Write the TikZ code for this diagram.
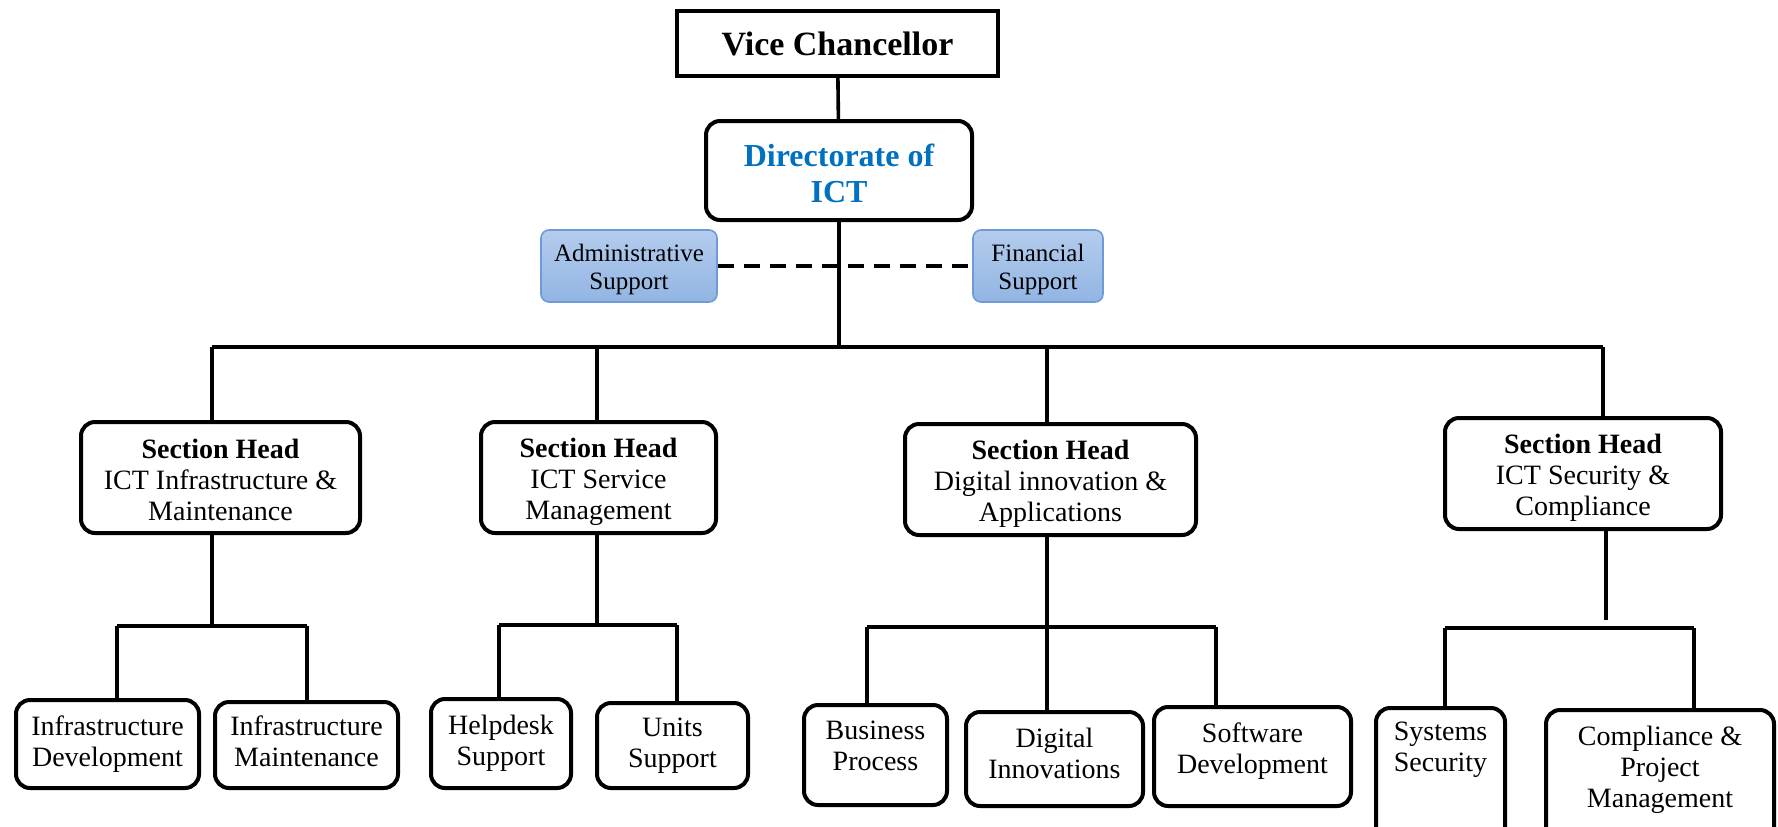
\documentclass[tikz,border=0pt]{standalone}
\usepackage{fontspec}
\setmainfont{Liberation Serif}
\usepackage{xcolor}
\definecolor{ictblue}{RGB}{0,112,192}
\definecolor{supportedge}{RGB}{110,155,215}
\definecolor{supporttop}{RGB}{180,204,237}
\definecolor{supportbottom}{RGB}{146,181,227}
\usepackage{tikz}
\usetikzlibrary{calc}
\newcommand{\topgap}[1]{\rule{0pt}{#1}}
\tikzset{
    common/.style={draw, line width=2pt, align=center, inner sep=0pt},
    px/.style 2 args={minimum width=#1*0.5pt, minimum height=#2*0.5pt},
    raise text/.style={execute at end node={\rule[-#1]{0pt}{0pt}}},
    chiefbox/.style={common, rectangle, font=\bfseries\fontsize{17}{20}\selectfont},
    headbox/.style={common, rounded corners=7pt, font=\fontsize{14}{15.5}\selectfont},
    leafbox/.style={headbox},
    dirbox/.style={headbox, text=ictblue, font=\bfseries\fontsize{16}{18}\selectfont},
    supportbox/.style={draw=supportedge, line width=0.8pt, rounded corners=4pt, top color=supporttop, bottom color=supportbottom, align=center, inner sep=0pt, font=\fontsize{12.5}{14}\selectfont},
    conn/.style={line width=1.8pt},
    staff-conn/.style={line width=2pt, dash pattern=on 8pt off 5pt}
}

\begin{document}
\begin{tikzpicture}[x=0.5pt, y=-0.5pt]
      \useasboundingbox (0,0) rectangle (1778,826);
      \clip (0,0) rectangle (1778,826);

      \path
          node[chiefbox, px={321}{65}] (vc) at (837.5,43.5) {Vice Chancellor}
          node[dirbox, px={266}{99}] (directorate) at (839,170.5) {\topgap{13.8pt}Directorate of\\ICT}
          node[supportbox, px={176}{72}] (admin-support) at (629,266) {\topgap{11.9pt}Administrative\\Support}
          node[supportbox, px={130}{72}] (fin-support) at (1038,266) {\topgap{11.9pt}Financial\\Support};

      \path
          node[headbox, px={279}{111}] (head-infra) at (220.5,477.5) {\topgap{11.8pt}\textbf{Section Head}\\ICT Infrastructure \&\\Maintenance}
          node[headbox, px={235}{111}] (head-service) at (598.5,477.5) {\topgap{14pt}\textbf{Section Head}\\ICT Service\\Management}
          node[headbox, px={291}{111}] (head-digital) at (1050.5,479.5) {\topgap{14pt}\textbf{Section Head}\\Digital innovation \&\\Applications}
          node[headbox, px={276}{111}] (head-security) at (1583,473.5) {\topgap{14pt}\textbf{Section Head}\\ICT Security \&\\Compliance};

      \path
          node[leafbox, px={183}{88}] (infra-dev) at (107.5,744) {Infrastructure\\Development}
          node[leafbox, px={183}{86}, raise text=3.6pt] (infra-maint) at (306.5,745) {Infrastructure\\Maintenance}
          node[leafbox, px={140}{89}] (helpdesk) at (501,743.5) {Helpdesk\\Support}
          node[leafbox, px={151}{85}] (units) at (672.5,745.5) {Units\\Support}
          node[leafbox, px={143}{100}, raise text=9.2pt] (business) at (875.5,755) {Business\\Process}
          node[leafbox, px={177}{94}, raise text=5.7pt] (dig-innov) at (1054.5,759) {Digital\\Innovations}
          node[leafbox, px={197}{99}, raise text=8.1pt] (software) at (1252.5,756.5) {Software\\Development}
          node[leafbox, px={129}{134}, raise text=28pt] (sys-security) at (1440.5,775) {Systems\\Security}
          node[leafbox, px={228}{132}, raise text=9.2pt] (compliance) at (1660,776) {Compliance \&\\Project\\Management};

      \coordinate (bus-a) at (212,347);
      \coordinate (bus-b) at (597,347);
      \coordinate (bus-c) at (1047,347);
      \coordinate (bus-d) at (1603,347);
      \coordinate (sub-a) at (212,626);
      \coordinate (sub-b) at (597,625);
      \coordinate (sub-c) at (1047,627);
      \coordinate (sub-d) at (1606,620);

      \draw[conn] (vc) -- (directorate);
      \draw[conn] (directorate) -- (directorate.south |- bus-a);
      \draw[staff-conn] (admin-support) -- (fin-support);
      \draw[conn] (bus-a) -- (bus-d);
      \draw[conn] (bus-a) -- (bus-a |- head-infra.north);
      \draw[conn] (bus-b) -- (bus-b |- head-service.north);
      \draw[conn] (bus-c) -- (bus-c |- head-digital.north);
      \draw[conn] (bus-d) -- (bus-d |- head-security.north);

      \draw[conn] (sub-a |- head-infra.south) -- (sub-a);
      \draw[conn] (117,626) -- (307,626);
      \draw[conn] (117,626) -- (117,0 |- infra-dev.north);
      \draw[conn] (307,626) -- (307,0 |- infra-maint.north);

      \draw[conn] (sub-b |- head-service.south) -- (sub-b);
      \draw[conn] (499,625) -- (677,625);
      \draw[conn] (499,625) -- (499,0 |- helpdesk.north);
      \draw[conn] (677,625) -- (677,0 |- units.north);

      \draw[conn] (sub-c |- head-digital.south) -- (sub-c |- dig-innov.north);
      \draw[conn] (867,627) -- (1216,627);
      \draw[conn] (867,627) -- (867,0 |- business.north);
      \draw[conn] (1216,627) -- (1216,0 |- software.north);

      \draw[conn] (sub-d |- head-security.south) -- (sub-d);
      \draw[conn] (1445,628) -- (1694,628);
      \draw[conn] (1445,628) -- (1445,0 |- sys-security.north);
      \draw[conn] (1694,628) -- (1694,0 |- compliance.north);
\end{tikzpicture}
\end{document}
